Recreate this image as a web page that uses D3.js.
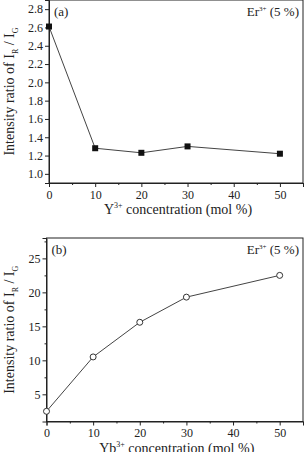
<!DOCTYPE html>
<html>
<head>
<meta charset="UTF-8">
<script src="https://d3js.org/d3.v7.min.js"></script>
<style>
  body { margin: 0; background: #fff; }
  svg { display: block; font-family: "Liberation Serif", "Times New Roman", serif; }
</style>
</head>
<body>
<svg id="chart" width="305" height="452"></svg>
<script>
// panel (a): Y3+ doping
const concA = [0, 10, 20, 30, 50];
const ratioA = [2.61, 1.28, 1.23, 1.30, 1.22];
const yTicksA = [1.0, 1.2, 1.4, 1.6, 1.8, 2.0, 2.2, 2.4, 2.6, 2.8];
// panel (b): Yb3+ doping
const concB = [0, 10, 20, 30, 50];
const ratioB = [2.5, 10.5, 15.6, 19.3, 22.5];
const yTicksB = [5, 10, 15, 20, 25];
const xTicks = [0, 10, 20, 30, 40, 50];
const xMinor = [5, 15, 25, 35, 45, 55];

const svg = d3.select("#chart");
const ink = "#222";

function panel(opt) {
  const x = d3.scaleLinear().domain([0, 55]).range([opt.left, opt.right]);
  const y = d3.scaleLinear().domain(opt.ydom).range([opt.bottom, opt.top]);
  const g = svg.append("g");

  // frame
  g.append("rect")
    .attr("x", opt.left).attr("y", opt.top)
    .attr("width", opt.right - opt.left).attr("height", opt.bottom - opt.top)
    .attr("fill", "none").attr("stroke", ink).attr("stroke-width", 1);

  // x axis
  const xa = g.append("g").attr("transform", `translate(0,${opt.bottom})`)
    .call(d3.axisBottom(x).tickValues(xTicks).tickSize(4).tickPadding(3).tickFormat(d3.format("d")));
  g.append("g").attr("transform", `translate(0,${opt.bottom})`)
    .call(d3.axisBottom(x).tickValues(xMinor).tickSize(2).tickFormat(""))
    .call(s => s.select(".domain").remove());

  // y axis
  const ya = g.append("g").attr("transform", `translate(${opt.left},0)`)
    .call(d3.axisLeft(y).tickValues(opt.yticks).tickSize(4).tickPadding(2).tickFormat(opt.fmt));
  if (opt.yminor) {
    g.append("g").attr("transform", `translate(${opt.left},0)`)
      .call(d3.axisLeft(y).tickValues(opt.yminor).tickSize(2).tickFormat(""))
      .call(s => s.select(".domain").remove());
  }
  g.selectAll(".domain").attr("stroke", ink);
  g.selectAll(".tick line").attr("stroke", ink);
  g.selectAll(".tick text").attr("fill", ink).style("font-size", "12px")
    .style("font-family", "Liberation Serif, serif");

  // line
  const pts = opt.xs.map((v, i) => [v, opt.ys[i]]);
  g.append("path").datum(pts)
    .attr("fill", "none").attr("stroke", "#444").attr("stroke-width", 1)
    .attr("d", d3.line().x(d => x(d[0])).y(d => y(d[1])));

  // markers
  if (opt.filled) {
    g.selectAll(".m").data(pts).enter().append("rect")
      .attr("x", d => x(d[0]) - 3).attr("y", d => y(d[1]) - 3)
      .attr("width", 6).attr("height", 6).attr("fill", "#111");
  } else {
    g.selectAll(".m").data(pts).enter().append("circle")
      .attr("cx", d => x(d[0])).attr("cy", d => y(d[1])).attr("r", 3)
      .attr("fill", "#fff").attr("stroke", "#333").attr("stroke-width", 1);
  }

  // panel label
  g.append("text").attr("x", opt.left + 5).attr("y", opt.top + 16)
    .style("font-size", "13px").attr("fill", ink).text(opt.tag);

  // Er3+ (5 %)
  const er = g.append("text").attr("x", opt.right - 4).attr("y", opt.top + 16)
    .attr("text-anchor", "end").style("font-size", "13px").attr("fill", ink);
  er.append("tspan").text("Er");
  er.append("tspan").attr("dy", -5).style("font-size", "7px").text("3+");
  er.append("tspan").attr("dy", 5).text(" (5 %)");

  // x title
  const xt = g.append("text").attr("x", (opt.left + opt.right) / 2 + 2).attr("y", opt.bottom + 31)
    .attr("text-anchor", "middle").style("font-size", "14px").attr("fill", ink);
  xt.append("tspan").text(opt.ion);
  xt.append("tspan").attr("dy", -6).style("font-size", "8px").text("3+");
  xt.append("tspan").attr("dy", 6).text(" concentration (mol %)");

  // y title
  const cy = (opt.top + opt.bottom) / 2;
  const yt = g.append("text").attr("transform", `translate(14,${cy}) rotate(-90)`)
    .attr("text-anchor", "middle").style("font-size", "14px").attr("fill", ink);
  yt.append("tspan").text("Intensity ratio of  I");
  yt.append("tspan").attr("dy", 4).style("font-size", "8px").text("R");
  yt.append("tspan").attr("dy", -4).text(" / I");
  yt.append("tspan").attr("dy", 4).style("font-size", "8px").text("G");
}

panel({
  left: 49, right: 303, top: 0, bottom: 183, ydom: [0.9, 2.9],
  yticks: yTicksA, fmt: d3.format(".1f"), xs: concA, ys: ratioA,
  filled: true, tag: "(a)", ion: "Y"
});

panel({
  left: 46.5, right: 303, top: 238, bottom: 421.5, ydom: [1, 28],
  yticks: yTicksB, yminor: [2.5, 7.5, 12.5, 17.5, 22.5, 27.5], fmt: d3.format("d"),
  xs: concB, ys: ratioB, filled: false, tag: "(b)", ion: "Yb"
});
</script>
</body>
</html>
